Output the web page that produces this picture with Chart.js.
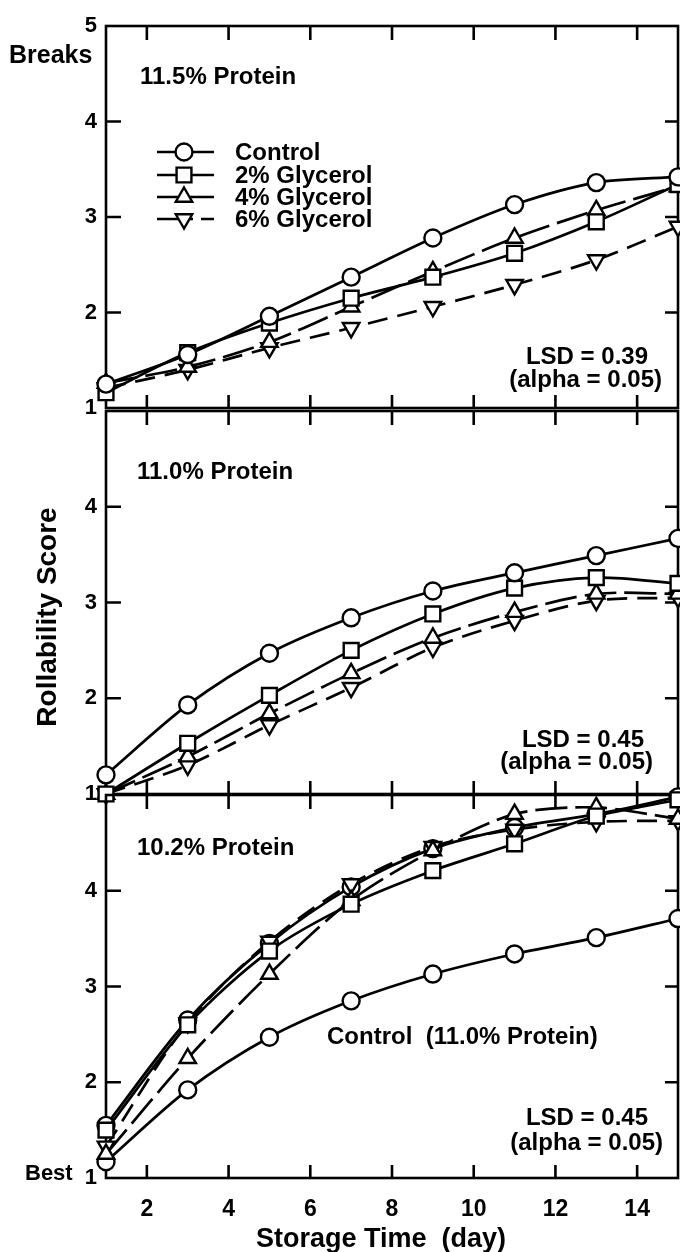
<!DOCTYPE html>
<html>
<head>
<meta charset="utf-8">
<script src="https://cdn.jsdelivr.net/npm/chart.js@4.4.0/dist/chart.umd.min.js"></script>
<style>
html, body { margin: 0; padding: 0; background: #fff; }
#wrap { position: relative; width: 680px; height: 1252px; }
canvas { position: absolute; left: 0; }
</style>
</head>
<body>
<div id="wrap">
  <canvas id="panelTop" width="680" height="420" style="top:0px"></canvas>
  <canvas id="panelMid" width="680" height="420" style="top:400px"></canvas>
  <canvas id="panelLow" width="680" height="467" style="top:785px"></canvas>
</div>
<script>
// storage days and axis ticks
const days = [1, 3, 5, 7, 9, 11, 13, 15];
const xTicks = [2, 4, 6, 8, 10, 12, 14];
const yTicks = [1, 2, 3, 4, 5];
const seriesNames = ['Control', '2% Glycerol', '4% Glycerol', '6% Glycerol'];

// 11.5% protein
const p115Control = [1.25, 1.56, 1.96, 2.37, 2.78, 3.13, 3.36, 3.42];
const p115Gly2 = [1.16, 1.58, 1.89, 2.15, 2.37, 2.62, 2.95, 3.34];
const p115Gly4 = [1.26, 1.43, 1.69, 2.06, 2.43, 2.78, 3.07, 3.32];
const p115Gly6 = [1.21, 1.40, 1.63, 1.84, 2.06, 2.29, 2.55, 2.90];

// 11.0% protein
const p110Control = [1.20, 1.93, 2.47, 2.84, 3.12, 3.31, 3.49, 3.67];
const p110Gly2 = [1.00, 1.53, 2.03, 2.50, 2.88, 3.15, 3.26, 3.20];
const p110Gly4 = [1.00, 1.39, 1.84, 2.26, 2.63, 2.90, 3.09, 3.09];
const p110Gly6 = [1.00, 1.30, 1.72, 2.11, 2.53, 2.81, 3.02, 3.05];

// 10.2% protein (plus the 11.0% control for reference)
const p102Control = [1.55, 2.65, 3.45, 4.04, 4.44, 4.66, 4.80, 4.98];
const p102Gly2 = [1.50, 2.60, 3.37, 3.86, 4.21, 4.49, 4.78, 4.95];
const p102Gly4 = [1.25, 2.25, 3.13, 3.90, 4.42, 4.80, 4.87, 4.75];
const p102Gly6 = [1.33, 2.62, 3.47, 4.07, 4.46, 4.64, 4.72, 4.73];
const ctl110Ref = [1.17, 1.92, 2.47, 2.85, 3.13, 3.34, 3.51, 3.71];

const FONT = '"Liberation Sans", Arial, sans-serif';
const INK = '#000';

// marker + line look per series
const looks = {
    'Control':     { pointStyle: 'circle',   rotation: 0,   radius: 8.5, dash: [] },
    '2% Glycerol': { pointStyle: 'rect',     rotation: 0,   radius: 10.5, dash: [] },
    '4% Glycerol': { pointStyle: 'triangle', rotation: 0,   radius: 9.5, dash: [32, 8] },
    '6% Glycerol': { pointStyle: 'triangle', rotation: 180, radius: 9.5, dash: [20, 10] }
};

function makeSet(name, values, order) {
    const lk = looks[name];
    return {
        label: name,
        data: days.map((d, i) => ({ x: d, y: values[i] })),
        order: order || 0,
        borderColor: INK,
        borderWidth: 2.7,
        borderDash: lk.dash,
        tension: 0.3,
        pointStyle: lk.pointStyle,
        rotation: lk.rotation,
        pointRadius: lk.radius,
        pointBackgroundColor: '#fff',
        pointBorderColor: INK,
        pointBorderWidth: 2.4,
        clip: false
    };
}

function frameTicks(chart) {
    const ctx = chart.ctx;
    const a = chart.chartArea;
    const xs = chart.scales.x;
    const ys = chart.scales.y;
    ctx.save();
    ctx.strokeStyle = INK;
    ctx.lineWidth = 2.6;
    ctx.setLineDash([]);
    ctx.strokeRect(a.left, a.top, a.right - a.left, a.bottom - a.top);
    ctx.beginPath();
    xTicks.forEach(v => {
        const px = xs.getPixelForValue(v);
        ctx.moveTo(px, a.top); ctx.lineTo(px, a.top + 14);
        ctx.moveTo(px, a.bottom); ctx.lineTo(px, a.bottom - 13);
    });
    [2, 3, 4].forEach(v => {
        const py = ys.getPixelForValue(v);
        ctx.moveTo(a.left, py); ctx.lineTo(a.left + 15, py);
        ctx.moveTo(a.right, py); ctx.lineTo(a.right - 13, py);
    });
    ctx.stroke();
    ctx.restore();
}

function drawTexts(chart, texts) {
    const ctx = chart.ctx;
    ctx.save();
    ctx.fillStyle = INK;
    ctx.textBaseline = 'middle';
    texts.forEach(t => {
        ctx.font = 'bold ' + t.size + 'px ' + FONT;
        ctx.textAlign = t.align || 'left';
        if (t.rotate) {
            ctx.save();
            ctx.translate(t.x, t.y);
            ctx.rotate(t.rotate);
            ctx.fillText(t.text, 0, 0);
            ctx.restore();
        } else {
            ctx.fillText(t.text, t.x, t.y);
        }
    });
    ctx.restore();
}

function drawLegend(chart) {
    const ctx = chart.ctx;
    const rowsY = [152, 175, 197, 219];
    ctx.save();
    seriesNames.forEach((name, i) => {
        const lk = looks[name];
        const y = rowsY[i];
        ctx.strokeStyle = INK;
        ctx.lineWidth = 2.6;
        ctx.setLineDash(name === '6% Glycerol' ? [36, 8, 14, 100] : []);
        ctx.beginPath();
        ctx.moveTo(157, y); ctx.lineTo(214, y);
        ctx.stroke();
        ctx.setLineDash([]);
        ctx.fillStyle = '#fff';
        ctx.lineWidth = 2.4;
        Chart.helpers.drawPoint(ctx, {
            pointStyle: lk.pointStyle, rotation: lk.rotation,
            radius: lk.radius, borderWidth: 2.4
        }, 184, y);
        ctx.fillStyle = INK;
        ctx.font = 'bold 24px ' + FONT;
        ctx.textBaseline = 'middle';
        ctx.textAlign = 'left';
        ctx.fillText(name, 235, y + 1);
    });
    ctx.restore();
}

function makePanel(id, sets, opts) {
    const ctx = document.getElementById(id).getContext('2d');
    return new Chart(ctx, {
        type: 'line',
        data: { datasets: sets },
        options: {
            responsive: false,
            animation: false,
            events: [],
            layout: { autoPadding: false, padding: { top: opts.padTop, right: 2, bottom: opts.padBottom, left: 0 } },
            plugins: { legend: { display: false }, tooltip: { enabled: false } },
            scales: {
                x: {
                    type: 'linear', min: 1, max: 15,
                    display: opts.showX,
                    afterBuildTicks: s => { s.ticks = xTicks.map(v => ({ value: v })); },
                    afterFit: s => {
                        s.height = opts.showX ? 74 : 0;
                        s.paddingLeft = 0; s.paddingRight = 0;
                    },
                    grid: { display: false, drawTicks: false },
                    border: { display: false },
                    ticks: { color: INK, padding: 18, font: { family: FONT, size: 23, weight: 'bold' } }
                },
                y: {
                    type: 'linear', min: 1, max: 5,
                    afterBuildTicks: s => { s.ticks = yTicks.map(v => ({ value: v })); },
                    afterFit: s => {
                        s.width = 106;
                        s.paddingTop = 0; s.paddingBottom = 0;
                    },
                    grid: { display: false, drawTicks: false },
                    border: { display: false },
                    ticks: {
                        color: INK, padding: 9,
                        font: { family: FONT, size: 22, weight: 'bold' },
                        callback: v => (v === 5 && !opts.showFive) ? '' : v
                    }
                }
            }
        },
        plugins: [{
            id: 'frameAndText',
            beforeDatasetsDraw: chart => frameTicks(chart),
            afterDraw: chart => {
                drawTexts(chart, opts.texts);
                if (opts.legend) drawLegend(chart);
            }
        }]
    });
}

makePanel('panelTop', [
    makeSet('Control', p115Control),
    makeSet('2% Glycerol', p115Gly2),
    makeSet('4% Glycerol', p115Gly4),
    makeSet('6% Glycerol', p115Gly6)
], {
    padTop: 26, padBottom: 12, showX: false, showFive: true, legend: true,
    texts: [
        { text: 'Breaks', x: 9, y: 56, size: 25 },
        { text: '11.5% Protein', x: 140, y: 77, size: 24 },
        { text: 'LSD = 0.39', x: 648, y: 357, size: 24, align: 'right' },
        { text: '(alpha = 0.05)', x: 662, y: 380, size: 24, align: 'right' }
    ]
});

makePanel('panelMid', [
    makeSet('Control', p110Control),
    makeSet('2% Glycerol', p110Gly2),
    makeSet('4% Glycerol', p110Gly4),
    makeSet('6% Glycerol', p110Gly6)
], {
    padTop: 11, padBottom: 26, showX: false, showFive: false, legend: false,
    texts: [
        { text: '11.0% Protein', x: 137, y: 72, size: 24 },
        { text: 'Rollability Score', x: 48, y: 217, size: 28, align: 'center', rotate: -Math.PI / 2 },
        { text: 'LSD = 0.45', x: 644, y: 340, size: 24, align: 'right' },
        { text: '(alpha = 0.05)', x: 653, y: 362, size: 24, align: 'right' }
    ]
});

makePanel('panelLow', [
    makeSet('Control', p102Control, 5),
    makeSet('2% Glycerol', p102Gly2),
    makeSet('4% Glycerol', p102Gly4),
    makeSet('6% Glycerol', p102Gly6),
    makeSet('Control', ctl110Ref)
], {
    padTop: 10, padBottom: 0, showX: true, showFive: false, legend: false,
    texts: [
        { text: '10.2% Protein', x: 137, y: 63, size: 24 },
        { text: 'Control  (11.0% Protein)', x: 327, y: 252, size: 24 },
        { text: 'LSD = 0.45', x: 648, y: 333, size: 24, align: 'right' },
        { text: '(alpha = 0.05)', x: 663, y: 358, size: 24, align: 'right' },
        { text: 'Best', x: 25, y: 389, size: 22 },
        { text: 'Storage Time  (day)', x: 381, y: 455, size: 27, align: 'center' }
    ]
});
</script>
</body>
</html>
